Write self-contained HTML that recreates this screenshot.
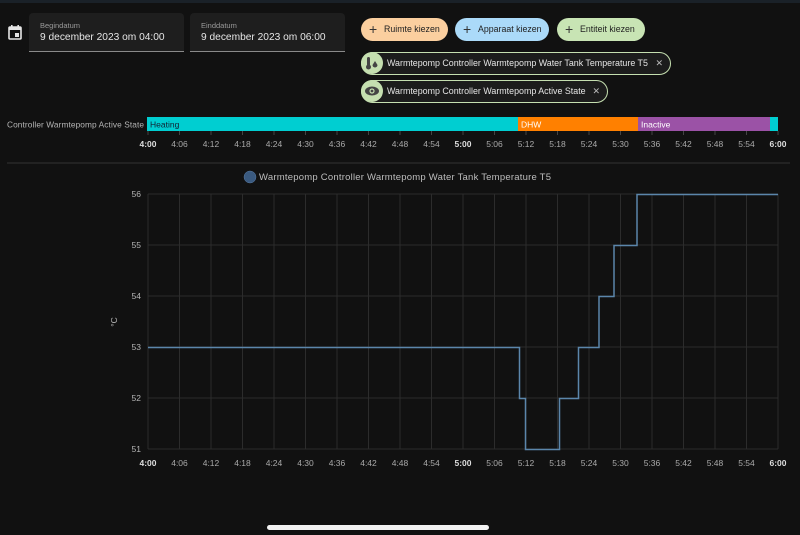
<!DOCTYPE html>
<html><head><meta charset="utf-8"><style>
*{margin:0;padding:0;box-sizing:border-box}
body{width:800px;height:535px;background:#111111;font-family:"Liberation Sans",sans-serif;position:relative;overflow:hidden;color:#e1e1e1}
.topbar{position:absolute;left:0;top:0;width:800px;height:3px;background:#1a2128}
.field{position:absolute;top:13px;height:39px;background:#1e1e1e;border-radius:4px 4px 0 0;border-bottom:1px solid #8a8a8a}
.field .l{position:absolute;left:11px;top:8px;font-size:7.5px;color:#9a9a9a}
.field .v{position:absolute;left:11px;top:19px;font-size:10.2px;color:#e6e6e6;white-space:nowrap}
.chip{position:absolute;height:23px;border-radius:12px;font-size:8.8px;color:#222;line-height:23px}
.chip .p{position:absolute;left:8px;top:0;font-size:14px;font-weight:300;color:#333}
.ent{position:absolute;height:23px;border-radius:12px;border:1.5px solid #c5dfb0;background:#1c1c1c;font-size:8.9px;color:#e4e4e4;line-height:20px}
.ent .ic{position:absolute;left:-1px;top:-1px;width:22px;height:22px;border-radius:11px;background:#c5dfb0}
.ent .t{position:absolute;left:25px;top:0;white-space:nowrap}
.ent .x{position:absolute;right:7px;top:0;color:#bbb;font-size:9px}
.home{position:absolute;left:267px;top:525px;width:222px;height:5px;border-radius:3px;background:#f2f2f2}
</style></head><body>
<div class="topbar"></div>
<svg style="position:absolute;left:8px;top:25px" width="14" height="15" viewBox="0 0 14 15"><rect x="1" y="2" width="12" height="12" rx="1" fill="none" stroke="#e6e6e6" stroke-width="1.6"/><rect x="1" y="2" width="12" height="3" fill="#e6e6e6"/><rect x="3" y="0" width="1.6" height="3" fill="#e6e6e6"/><rect x="9.4" y="0" width="1.6" height="3" fill="#e6e6e6"/><rect x="7" y="8" width="4" height="4" fill="#e6e6e6"/></svg>
<div class="field" style="left:29px;width:155px"><div class="l">Begindatum</div><div class="v">9 december 2023 om 04:00</div></div>
<div class="field" style="left:190px;width:155px"><div class="l">Einddatum</div><div class="v">9 december 2023 om 06:00</div></div>
<div class="chip" style="left:361px;top:18px;width:87px;background:#fbcf9f"><span class="p">+</span><span style="position:absolute;left:23px">Ruimte kiezen</span></div>
<div class="chip" style="left:455px;top:18px;width:94px;background:#abdaf9"><span class="p">+</span><span style="position:absolute;left:23px">Apparaat kiezen</span></div>
<div class="chip" style="left:557px;top:18px;width:88px;background:#c8e4b4"><span class="p">+</span><span style="position:absolute;left:23px">Entiteit kiezen</span></div>
<div class="ent" style="left:361px;top:52px;width:310px"><div class="ic"><svg width="22" height="22"><rect x="6" y="5" width="3" height="9" rx="1.5" fill="#444"/><circle cx="7.5" cy="15" r="2.5" fill="#444"/><path d="M14 9 L16.5 13 A2.5 2.5 0 1 1 11.5 13 Z" fill="#444"/></svg></div><span class="t">Warmtepomp Controller Warmtepomp Water Tank Temperature T5</span><span class="x">✕</span></div>
<div class="ent" style="left:361px;top:80px;width:247px"><div class="ic"><svg width="22" height="22"><ellipse cx="11" cy="11" rx="7" ry="4.5" fill="#444"/><circle cx="11" cy="11" r="2.6" fill="#c5dfb0"/><circle cx="11" cy="11" r="1.4" fill="#444"/></svg></div><span class="t">Warmtepomp Controller Warmtepomp Active State</span><span class="x">✕</span></div>

<svg id="main" style="position:absolute;left:0;top:0" width="800" height="535" font-family="Liberation Sans, sans-serif">
<text x="7" y="127.5" font-size="8.3" fill="#b5b5b5" textLength="137">Controller Warmtepomp Active State</text>
<rect x="147" y="117" width="371" height="14" fill="#00ced1"/>
<rect x="518" y="117" width="120" height="14" fill="#ff8000"/>
<rect x="638" y="117" width="132" height="14" fill="#9b52a6"/>
<rect x="770" y="117" width="8" height="14" fill="#00ced1"/>
<text x="150" y="127.5" font-size="8.5" fill="#123">Heating</text>
<text x="521" y="127.5" font-size="8.5" fill="#fff">DHW</text>
<text x="641" y="127.5" font-size="8.5" fill="#fff">Inactive</text>
<line x1="7" y1="163" x2="790" y2="163" stroke="#333" stroke-width="1"/>
<circle cx="250" cy="177" r="6" fill="#3a5a80" stroke="#5a7aa0" stroke-width="0.5"/>
<text x="259" y="180" font-size="9.5" fill="#bdbdbd" textLength="292">Warmtepomp Controller Warmtepomp Water Tank Temperature T5</text>
<g stroke="#2c2c2c" stroke-width="1" id="grid"></g>
<g id="ticks" stroke="#444"></g>
<g id="lab1" font-size="8.5" fill="#aaa" text-anchor="middle"></g>
<g font-size="8.5" fill="#b5b5b5" text-anchor="end">
<text x="141" y="197">56</text><text x="141" y="248">55</text><text x="141" y="299">54</text><text x="141" y="350">53</text><text x="141" y="401">52</text><text x="141" y="452">51</text>
</g>
<text x="0" y="0" font-size="8.5" fill="#b5b5b5" transform="translate(117,322) rotate(-90)" text-anchor="middle">°C</text>
<path d="M148 347.5 H519.5 V398.5 H525.5 V449.5 H559.5 V398.5 H578.5 V347.5 H599 V296.5 H614 V245.5 H637 V194.5 H778" fill="none" stroke="#5b86ab" stroke-width="1.5"/>
</svg>
<div class="home"></div>
<script>
var ns="http://www.w3.org/2000/svg";
var g=document.getElementById('grid'),tk=document.getElementById('ticks'),lb=document.getElementById('lab1');
function el(t,a,p){var e=document.createElementNS(ns,t);for(var k in a)e.setAttribute(k,a[k]);p.appendChild(e);return e;}
var labels=["4:00","4:06","4:12","4:18","4:24","4:30","4:36","4:42","4:48","4:54","5:00","5:06","5:12","5:18","5:24","5:30","5:36","5:42","5:48","5:54","6:00"];
for(var i=0;i<=20;i++){var x=148+i*31.5;
 el('line',{x1:x,y1:194,x2:x,y2:449},g);
 el('line',{x1:x,y1:131,x2:x,y2:135},tk);
 var b=(i%10==0);
 var a={x:x,y:147,fill:b?'#ddd':'#aaa'};if(b)a['font-weight']='bold';
 el('text',a,lb).textContent=labels[i];
 var a2={x:x,y:466,fill:b?'#ddd':'#aaa'};if(b)a2['font-weight']='bold';
 el('text',a2,lb).textContent=labels[i];
}
for(var j=0;j<6;j++){var y=194+j*51;el('line',{x1:148,y1:y,x2:778,y2:y},g);}
</script>
</body></html>
